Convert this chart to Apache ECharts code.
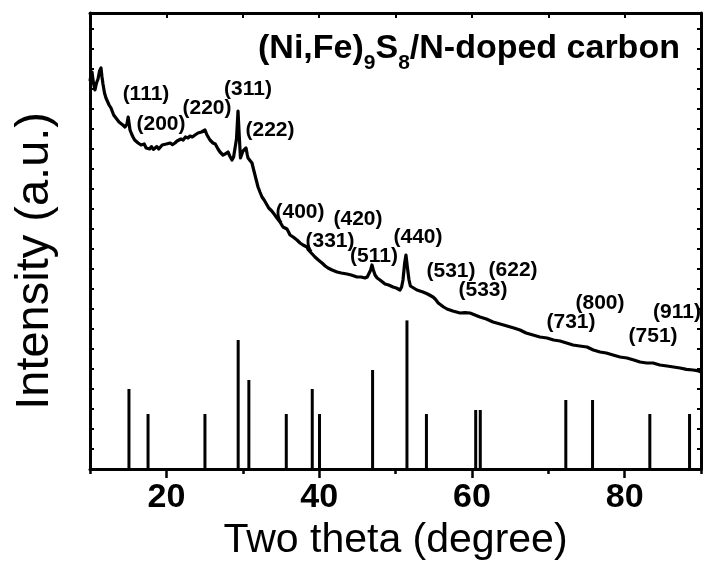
<!DOCTYPE html>
<html>
<head>
<meta charset="utf-8">
<script src="https://cdn.jsdelivr.net/npm/echarts@6/dist/echarts.min.js"></script>
<style>
html,body{margin:0;padding:0;background:#fff;}
#chart{width:704px;height:574px;}
</style>
</head>
<body>
<div id="chart"></div>
<script>
// Measured XRD pattern (2theta, intensity in arbitrary units)
const twoTheta = [
10.0,10.13,10.26,10.45,10.65,10.85,11.05,11.25,11.44,11.57,11.70,11.9,12.09,12.3,12.5,12.75,12.95,13.1,13.25,13.4,
13.6,13.8,14.06,14.3,14.58,14.84,15.0,15.11,15.24,15.45,15.63,15.85,16.02,16.3,16.68,16.9,17.1,17.35,17.59,17.8,
18.05,18.3,18.51,18.75,19.0,19.17,19.45,19.7,20.0,20.21,20.5,20.8,21.13,21.4,21.65,21.91,22.2,22.5,22.83,23.1,
23.4,23.75,24.0,24.14,24.4,24.6,24.80,25.06,25.32,25.5,25.71,25.9,26.10,26.4,26.76,27.02,27.2,27.41,27.7,28.07,
28.3,28.59,28.8,28.99,29.18,29.38,29.58,29.7,29.85,30.03,30.2,30.43,30.6,30.69,30.9,31.21,31.4,31.60,31.8,32.00,
32.25,32.52,32.8,33.18,33.4,33.57,33.8,33.96,34.2,34.48,34.7,34.88,35.1,35.27,35.5,35.79,36.0,36.19,36.6,37.10,
37.5,37.89,38.1,38.41,38.6,38.81,39.1,39.46,39.9,40.38,40.8,41.16,41.7,42.34,42.9,43.65,44.2,44.96,45.5,46.01,
46.3,46.53,46.75,46.92,47.1,47.32,47.6,47.97,48.3,48.63,49.1,49.67,50.1,50.59,50.8,50.98,51.2,51.37,51.55,51.77,
51.95,52.16,52.8,53.60,54.2,54.91,55.2,55.43,55.6,55.83,56.3,56.74,57.5,58.45,59.1,59.75,60.4,61.06,61.9,62.77,
63.7,64.60,65.5,66.30,67.1,68.00,68.9,69.84,70.7,71.54,72.4,73.24,74.1,75.07,75.9,76.78,77.6,78.48,79.4,80.31,
81.2,82.02,82.9,83.72,84.6,85.55,86.4,87.25,88.1,88.95,89.5,90.0
];
const intensity = [
19.4,19.7,19.85,19.3,18.95,19.3,19.5,19.9,20.05,19.6,19.25,18.8,18.55,18.5,18.2,18.05,17.95,17.7,17.75,17.55,
17.5,17.35,17.4,17.2,17.1,17.25,17.6,17.55,16.95,16.75,16.6,16.45,16.35,16.3,16.2,16.1,16.25,16.05,16.15,16.0,
16.12,15.98,16.05,16.12,16.0,16.1,16.2,16.1,16.25,16.2,16.3,16.22,16.3,16.4,16.35,16.5,16.45,16.6,16.55,16.65,
16.6,16.7,16.75,16.8,16.7,16.85,16.8,16.95,16.7,16.6,16.45,16.4,16.3,16.25,16.0,15.85,15.9,15.7,15.75,15.85,
15.65,15.45,15.6,15.55,16.5,17.9,16.4,15.55,15.5,15.9,15.85,16.05,15.7,15.55,15.45,15.3,15.0,14.7,14.4,14.1,
13.85,13.6,13.45,13.2,13.05,12.95,12.9,12.8,12.7,12.55,12.45,12.35,12.25,12.1,12.1,12.0,11.85,11.7,11.6,11.45,
11.3,11.2,11.15,11.1,10.95,10.85,10.75,10.6,10.45,10.3,10.15,10.05,9.95,9.85,9.8,9.75,9.7,9.6,9.6,9.55,
9.6,9.65,9.95,10.2,9.95,9.7,9.55,9.45,9.35,9.25,9.2,9.1,9.05,8.95,9.1,9.45,10.3,10.7,10.1,9.45,
9.15,9.05,8.95,8.85,8.75,8.6,8.5,8.45,8.3,8.2,8.1,8.0,7.9,7.8,7.82,7.8,7.7,7.6,7.5,7.35,
7.25,7.15,7.05,6.95,6.8,6.7,6.6,6.55,6.45,6.4,6.3,6.2,6.15,6.1,5.95,5.85,5.8,5.7,5.6,5.55,
5.45,5.35,5.3,5.3,5.2,5.15,5.1,5.05,4.98,4.95,4.92,4.85
];
// Reference pattern sticks
const stickPos = [15.1,17.6,25.05,29.4,30.8,35.7,39.1,40.05,47.0,51.5,54.05,60.5,61.1,72.3,75.8,83.3,88.5];
const stickHeight = [4.0,2.75,2.75,6.45,4.45,2.75,4.0,2.75,4.95,7.43,2.75,2.95,2.95,3.45,3.45,2.75,2.75];
// hkl annotations (anchored in data units)
const hklLabels = ['(111)','(200)','(220)','(311)','(222)','(400)','(420)','(331)','(511)','(440)','(531)','(622)','(533)','(731)','(800)','(751)','(911)'];
const hklX = [17.33,19.30,25.32,30.69,33.57,37.50,45.09,41.42,47.18,52.95,57.27,65.39,61.46,72.98,76.78,83.72,86.86];
const hklY = [18.75,17.25,18.05,19.0,16.95,12.85,12.5,11.4,10.65,11.6,9.9,9.95,8.95,7.35,8.3,6.65,7.85];
const xTickLabels = [20,40,60,80];
const xMinorTicks = [10,30,50,70,90];

const chart = echarts.init(document.getElementById('chart'), null, {renderer:'canvas'});
const sans = '"Liberation Sans",Arial,sans-serif';

const option = {
  animation:false,
  backgroundColor:'#fff',
  grid:{left:90,right:3,top:13,bottom:105,containLabel:false},
  xAxis:[
    {type:'value',position:'bottom',min:10,max:90,interval:10,
     axisLine:{show:true,lineStyle:{color:'#000',width:3}},
     axisTick:{show:true,inside:false,length:9,customValues:xTickLabels,lineStyle:{color:'#000',width:2.5}},
     axisLabel:{show:true,customValues:xTickLabels,margin:12,color:'#000',fontFamily:sans,fontWeight:'bold',fontSize:34},
     splitLine:{show:false},
     name:'Two theta (degree)',nameLocation:'middle',nameGap:50,
     nameTextStyle:{color:'#000',fontFamily:sans,fontSize:41}},
    {type:'value',position:'bottom',min:10,max:90,interval:10,
     axisLine:{show:false},
     axisTick:{show:true,inside:false,length:5,customValues:xMinorTicks,lineStyle:{color:'#000',width:2.5}},
     axisLabel:{show:false},splitLine:{show:false}},
    {type:'value',position:'top',min:10,max:90,interval:10,
     axisLine:{show:true,lineStyle:{color:'#000',width:3}},
     axisTick:{show:true,inside:true,length:5,lineStyle:{color:'#000',width:2}},
     axisLabel:{show:false},splitLine:{show:false}}
  ],
  yAxis:[
    {type:'value',position:'left',min:0,max:22.8,interval:1,
     axisLine:{show:true,lineStyle:{color:'#000',width:3}},
     axisTick:{show:true,inside:true,length:4,lineStyle:{color:'#000',width:2}},
     axisLabel:{show:false},splitLine:{show:false}},
    {type:'value',position:'right',min:0,max:22.8,interval:1,
     axisLine:{show:true,lineStyle:{color:'#000',width:3}},
     axisTick:{show:true,inside:true,length:4,lineStyle:{color:'#000',width:2}},
     axisLabel:{show:false},splitLine:{show:false}}
  ],
  graphic:[
    {type:'text',left:12,top:112,rotation:Math.PI/2,
     style:{text:'Intensity (a.u.)',fill:'#000',font:'47px "Liberation Sans", Arial, sans-serif'}},
    {type:'text',left:258,top:32,
     style:{text:'{a|(Ni,Fe)}{b|9}{a|S}{b|8}{a|/N-doped carbon}',fill:'#000',
       rich:{
         a:{fontFamily:sans,fontWeight:'bold',fontSize:34,lineHeight:42,verticalAlign:'top',fill:'#000'},
         b:{fontFamily:sans,fontWeight:'bold',fontSize:21,lineHeight:21,verticalAlign:'bottom',fill:'#000'}
       }}}
  ],
  series:[
    {type:'line',xAxisIndex:0,yAxisIndex:0,showSymbol:false,symbol:'none',
     lineStyle:{color:'#000',width:3.2,join:'round'},
     data:twoTheta.map((x,i)=>[x,intensity[i]]),z:3},
    {type:'custom',xAxisIndex:0,yAxisIndex:0,
     data:stickPos.map((x,i)=>[x,stickHeight[i]]),
     renderItem:function(params,api){
       const p0 = api.coord([api.value(0),0]);
       const p1 = api.coord([api.value(0),api.value(1)]);
       return {type:'line',shape:{x1:p0[0],y1:p0[1],x2:p1[0],y2:p1[1]},style:{stroke:'#000',lineWidth:3}};
     },z:2},
    {type:'custom',xAxisIndex:0,yAxisIndex:0,
     data:hklX.map((x,i)=>[x,hklY[i]]),
     renderItem:function(params,api){
       const p = api.coord([api.value(0),api.value(1)]);
       return {type:'text',x:p[0],y:p[1],
         style:{text:hklLabels[params.dataIndex],fill:'#000',align:'center',verticalAlign:'middle',
                font:'bold 21px "Liberation Sans", Arial, sans-serif'}};
     },z:4}
  ]
};
chart.setOption(option);
</script>
</body>
</html>
